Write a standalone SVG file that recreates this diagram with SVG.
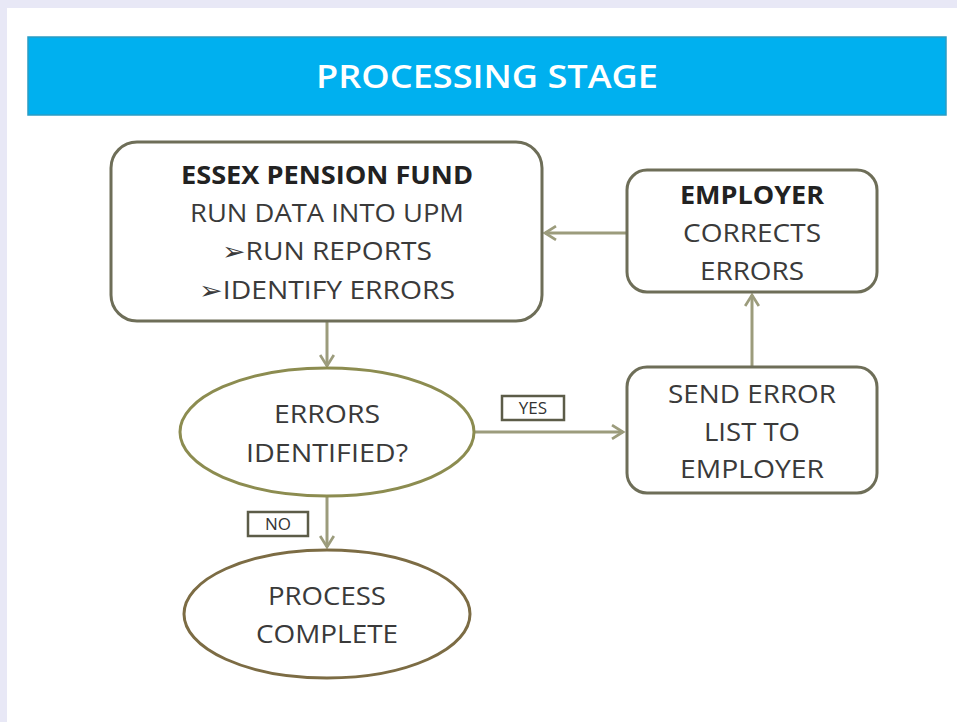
<svg xmlns="http://www.w3.org/2000/svg" width="957" height="722" viewBox="0 0 957 722">
<style>
.t{font-family:"Open Sans","Liberation Sans",sans-serif;font-size:25px;fill:#3a3a3a;text-anchor:middle}
.b{font-weight:bold;fill:#222}
.box{fill:#fff;stroke:#6e6e58;stroke-width:3}
.conn{fill:none;stroke:#9c9c7c;stroke-width:3;marker-end:url(#ah)}
.lab{fill:#fff;stroke:#5c5c48;stroke-width:2.5}
.lt{font-family:"Open Sans","Liberation Sans",sans-serif;font-size:17px;fill:#333;text-anchor:middle}
</style>
<defs>
<marker id="ah" viewBox="0 0 12 12" refX="10" refY="6" markerWidth="5.5" markerHeight="5.5" orient="auto" markerUnits="strokeWidth">
<path d="M2,1 L10,6 L2,11" fill="none" stroke="#9c9c7c" stroke-width="2"/>
</marker>
</defs>
<rect width="957" height="722" fill="#e8e8f6"/>
<rect x="7" y="8" width="950" height="714" fill="#fff"/>
<g id="banner">
<rect x="28" y="37" width="918" height="78" fill="#00b0ef" stroke="#2a9cc4" stroke-width="1.5"/>
<text x="487" y="88" font-family="'Open Sans','Liberation Sans',sans-serif" font-size="32" font-weight="600" fill="#fff" text-anchor="middle" textLength="342" lengthAdjust="spacingAndGlyphs">PROCESSING STAGE</text>
</g>
<g id="connectors">
<line class="conn" x1="327" y1="322" x2="327" y2="366"/>
<line class="conn" x1="475" y1="432" x2="623" y2="432"/>
<line class="conn" x1="752" y1="366" x2="752" y2="295"/>
<line class="conn" x1="626" y1="233" x2="545" y2="233"/>
<line class="conn" x1="327" y1="497" x2="327" y2="547"/>
</g>
<g id="essex">
<rect class="box" x="111" y="142" width="431" height="179" rx="26"/>
<text class="t b" x="327" y="184" textLength="292" lengthAdjust="spacingAndGlyphs">ESSEX PENSION FUND</text>
<text class="t" x="327" y="222" textLength="274" lengthAdjust="spacingAndGlyphs">RUN DATA INTO UPM</text>
<text class="t" x="327" y="260" textLength="210" lengthAdjust="spacingAndGlyphs">➢RUN REPORTS</text>
<text class="t" x="327" y="299" textLength="256" lengthAdjust="spacingAndGlyphs">➢IDENTIFY ERRORS</text>
</g>
<g id="employer">
<rect class="box" x="627" y="170" width="250" height="122" rx="20"/>
<text class="t b" x="752" y="204" textLength="144" lengthAdjust="spacingAndGlyphs">EMPLOYER</text>
<text class="t" x="752" y="242" textLength="138" lengthAdjust="spacingAndGlyphs">CORRECTS</text>
<text class="t" x="752" y="280" textLength="104" lengthAdjust="spacingAndGlyphs">ERRORS</text>
</g>
<g id="send">
<rect class="box" x="627" y="367" width="250" height="126" rx="20"/>
<text class="t" x="752" y="403" textLength="168" lengthAdjust="spacingAndGlyphs">SEND ERROR</text>
<text class="t" x="752" y="441" textLength="96" lengthAdjust="spacingAndGlyphs">LIST TO</text>
<text class="t" x="752" y="478" textLength="144" lengthAdjust="spacingAndGlyphs">EMPLOYER</text>
</g>
<g id="decision">
<ellipse cx="327" cy="432" rx="147" ry="64" fill="#fff" stroke="#8c8c50" stroke-width="3"/>
<text class="t" x="327" y="423" textLength="106" lengthAdjust="spacingAndGlyphs">ERRORS</text>
<text class="t" x="327" y="462" textLength="162" lengthAdjust="spacingAndGlyphs">IDENTIFIED?</text>
</g>
<g id="complete">
<ellipse cx="327" cy="614" rx="143" ry="64" fill="#fff" stroke="#7c6c44" stroke-width="3"/>
<text class="t" x="327" y="605" textLength="118" lengthAdjust="spacingAndGlyphs">PROCESS</text>
<text class="t" x="327" y="643" textLength="142" lengthAdjust="spacingAndGlyphs">COMPLETE</text>
</g>
<g id="yes">
<rect class="lab" x="502" y="396" width="62" height="24"/>
<text class="lt" x="533" y="414">YES</text>
</g>
<g id="no">
<rect class="lab" x="248" y="512" width="60" height="24"/>
<text class="lt" x="278" y="530">NO</text>
</g>
</svg>
